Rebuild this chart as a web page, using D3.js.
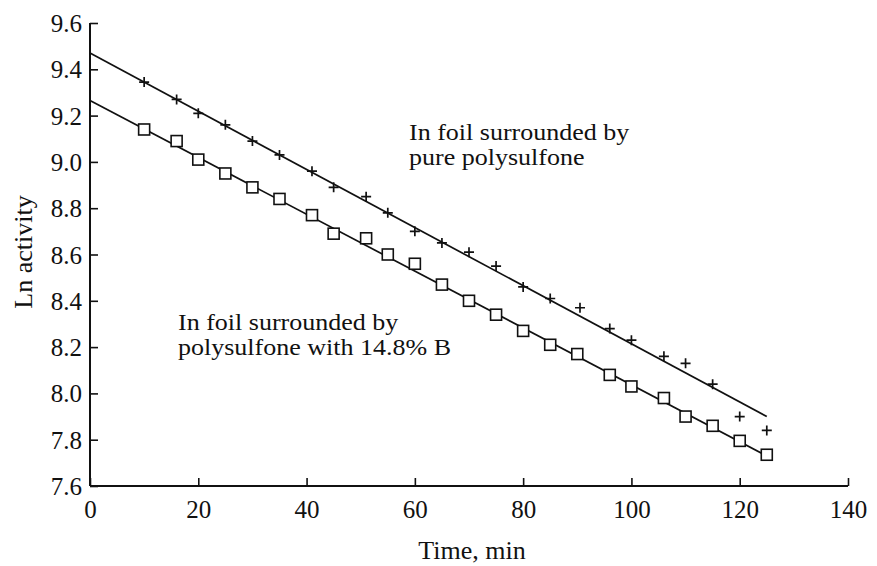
<!DOCTYPE html>
<html>
<head>
<meta charset="utf-8">
<script src="https://cdn.jsdelivr.net/npm/d3@7"></script>
<style>
  body { margin: 0; background: #fff; }
  text { font-family: "Liberation Serif", "Times New Roman", serif; fill: #111; }
</style>
</head>
<body>
<svg id="chart" width="877" height="566"></svg>
<script>
// ---- data ----
const timesPure = [10, 16, 20, 25, 30, 35, 41, 45, 51, 55, 60, 65, 70, 75, 80, 85, 90.5, 96, 100, 106, 110, 115, 120, 125];
const lnPure    = [9.345, 9.27, 9.21, 9.16, 9.09, 9.03, 8.96, 8.89, 8.85, 8.78, 8.70, 8.65, 8.61, 8.55, 8.46, 8.41, 8.37, 8.28, 8.23, 8.16, 8.13, 8.04, 7.90, 7.84];
const timesB    = [10, 16, 20, 25, 30, 35, 41, 45, 51, 55, 60, 65, 70, 75, 80, 85, 90, 96, 100, 106, 110, 115, 120, 125];
const lnB       = [9.14, 9.09, 9.01, 8.95, 8.89, 8.84, 8.77, 8.69, 8.67, 8.60, 8.56, 8.47, 8.40, 8.34, 8.27, 8.21, 8.17, 8.08, 8.03, 7.98, 7.90, 7.86, 7.795, 7.735];
const fitTimes  = [0, 125];
const fitPure   = [9.47, 7.90];
const fitB      = [9.265, 7.73];
const xTicks = [0, 20, 40, 60, 80, 100, 120, 140];
const yTicks = [7.6, 7.8, 8.0, 8.2, 8.4, 8.6, 8.8, 9.0, 9.2, 9.4, 9.6];
const labelPure = ["In foil surrounded by", "pure polysulfone"];
const labelB = ["In foil surrounded by", "polysulfone with 14.8% B"];

// ---- layout ----
const svg = d3.select("#chart");
const L = 90, R = 848, T = 23, B = 486;
const x = d3.scaleLinear().domain([0, 140]).range([L, R]);
const y = d3.scaleLinear().domain([7.6, 9.6]).range([B, T]);

// axes (ticks point inward)
const xAxis = svg.append("g").attr("transform", `translate(0,${B})`)
  .call(d3.axisBottom(x).tickValues(xTicks).tickSize(-8).tickPadding(14).tickFormat(d3.format("d")));
const yAxis = svg.append("g").attr("transform", `translate(${L},0)`)
  .call(d3.axisLeft(y).tickValues(yTicks).tickSize(-8).tickPadding(8).tickFormat(d3.format(".1f")));
[xAxis, yAxis].forEach(g => {
  g.select(".domain").attr("stroke", "#111").attr("stroke-width", 2);
  g.selectAll(".tick line").attr("stroke", "#111").attr("stroke-width", 1.6);
  g.selectAll(".tick text").attr("font-family", "Liberation Serif, Times New Roman, serif")
    .attr("font-size", 25).attr("fill", "#111");
});
yAxis.selectAll(".tick text").attr("dy", "0.34em");
xAxis.select(".domain").attr("d", `M${L},0H${R}`);
yAxis.select(".domain").attr("d", `M0,${B}V${T}`);

// fit lines
const line = d3.line().x(d => x(d[0])).y(d => y(d[1]));
[fitPure, fitB].forEach(f => {
  svg.append("path").datum(fitTimes.map((t, i) => [t, f[i]]))
    .attr("d", line).attr("fill", "none").attr("stroke", "#111").attr("stroke-width", 1.7);
});

// plus markers
const pure = timesPure.map((t, i) => [t, lnPure[i]]);
svg.append("g").selectAll("path").data(pure).join("path")
  .attr("transform", d => `translate(${x(d[0])},${y(d[1])})`)
  .attr("d", "M-5,0H5M0,-5V5")
  .attr("stroke", "#111").attr("stroke-width", 1.7).attr("fill", "none");

// square markers
const bData = timesB.map((t, i) => [t, lnB[i]]);
svg.append("g").selectAll("rect").data(bData).join("rect")
  .attr("x", d => x(d[0]) - 5.5).attr("y", d => y(d[1]) - 5.5)
  .attr("width", 11).attr("height", 11)
  .attr("fill", "#fff").attr("stroke", "#111").attr("stroke-width", 1.6);

// annotations: tight leading as in the reference; glyphs widened to the reference's text width
function label(lines, x0, y0, dy) {
  lines.forEach((s, i) => {
    const t = svg.append("text").attr("font-size", 23)
      .attr("x", x0).attr("y", y0 + i * dy).text(s);
    const w = t.node().getComputedTextLength();
    t.attr("textLength", w * 26 / 23).attr("lengthAdjust", "spacingAndGlyphs");
  });
}
label(labelPure, 409, 139.5, 25);
label(labelB, 178, 329.5, 25);

// axis titles
svg.append("text").attr("x", (L + R) / 2 + 3).attr("y", 559).attr("text-anchor", "middle")
  .attr("font-size", 26).text("Time, min");
svg.append("text").attr("transform", "translate(32,252) rotate(-90)").attr("text-anchor", "middle")
  .attr("font-size", 26).text("Ln activity");
</script>
</body>
</html>
